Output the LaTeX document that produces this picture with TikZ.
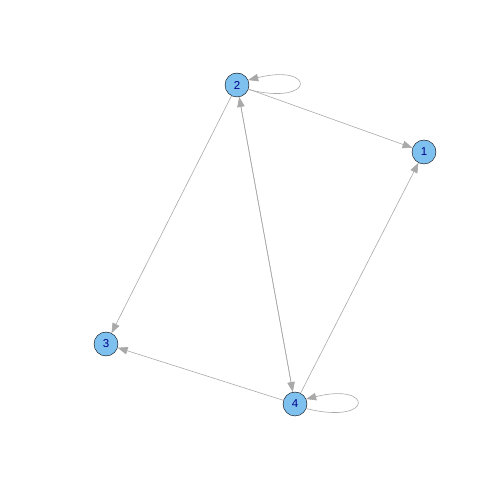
\documentclass[tikz,border=0pt]{standalone}
\usepackage{fontspec}
\setmainfont{Liberation Sans}
\usetikzlibrary{arrows.meta}
\definecolor{vfill}{HTML}{7EC0EE}
\definecolor{vlabel}{HTML}{00008B}
\definecolor{egray}{HTML}{A9A9A9}
\begin{document}
\begin{tikzpicture}[x=1pt,y=1pt]
					\useasboundingbox (0,0) rectangle (504,504);
					\tikzstyle{every node}=[circle,draw=black,fill=vfill,minimum size=24pt,inner sep=0pt,text=vlabel,font=\fontsize{11.5}{11.5}\selectfont];
					\tikzstyle{edge}=[draw=egray,line width=0.6pt,-{Triangle[length=10pt,width=7.5pt]}];
					\path (424,352) node (v1) {1};
					\path (237,419) node (v2) {2};
					\path (106,160) node (v3) {3};
					\path (295,100) node (v4) {4};
					\draw[edge] (v2) -- (v1);
					\draw[edge] (v2) -- (v3);
					\draw[edge] (v2) -- (v4);
					\draw[edge] (v4) -- (v2);
					\draw[edge] (v4) -- (v1);
					\draw[edge] (v4) -- (v3);
					\draw[edge] (v2.-22) .. controls +(-14:70) and +(14:70) .. (v2.24);
					\draw[edge] (v4.-22) .. controls +(-14:70) and +(14:70) .. (v4.24);
					\end{tikzpicture}
\end{document}
